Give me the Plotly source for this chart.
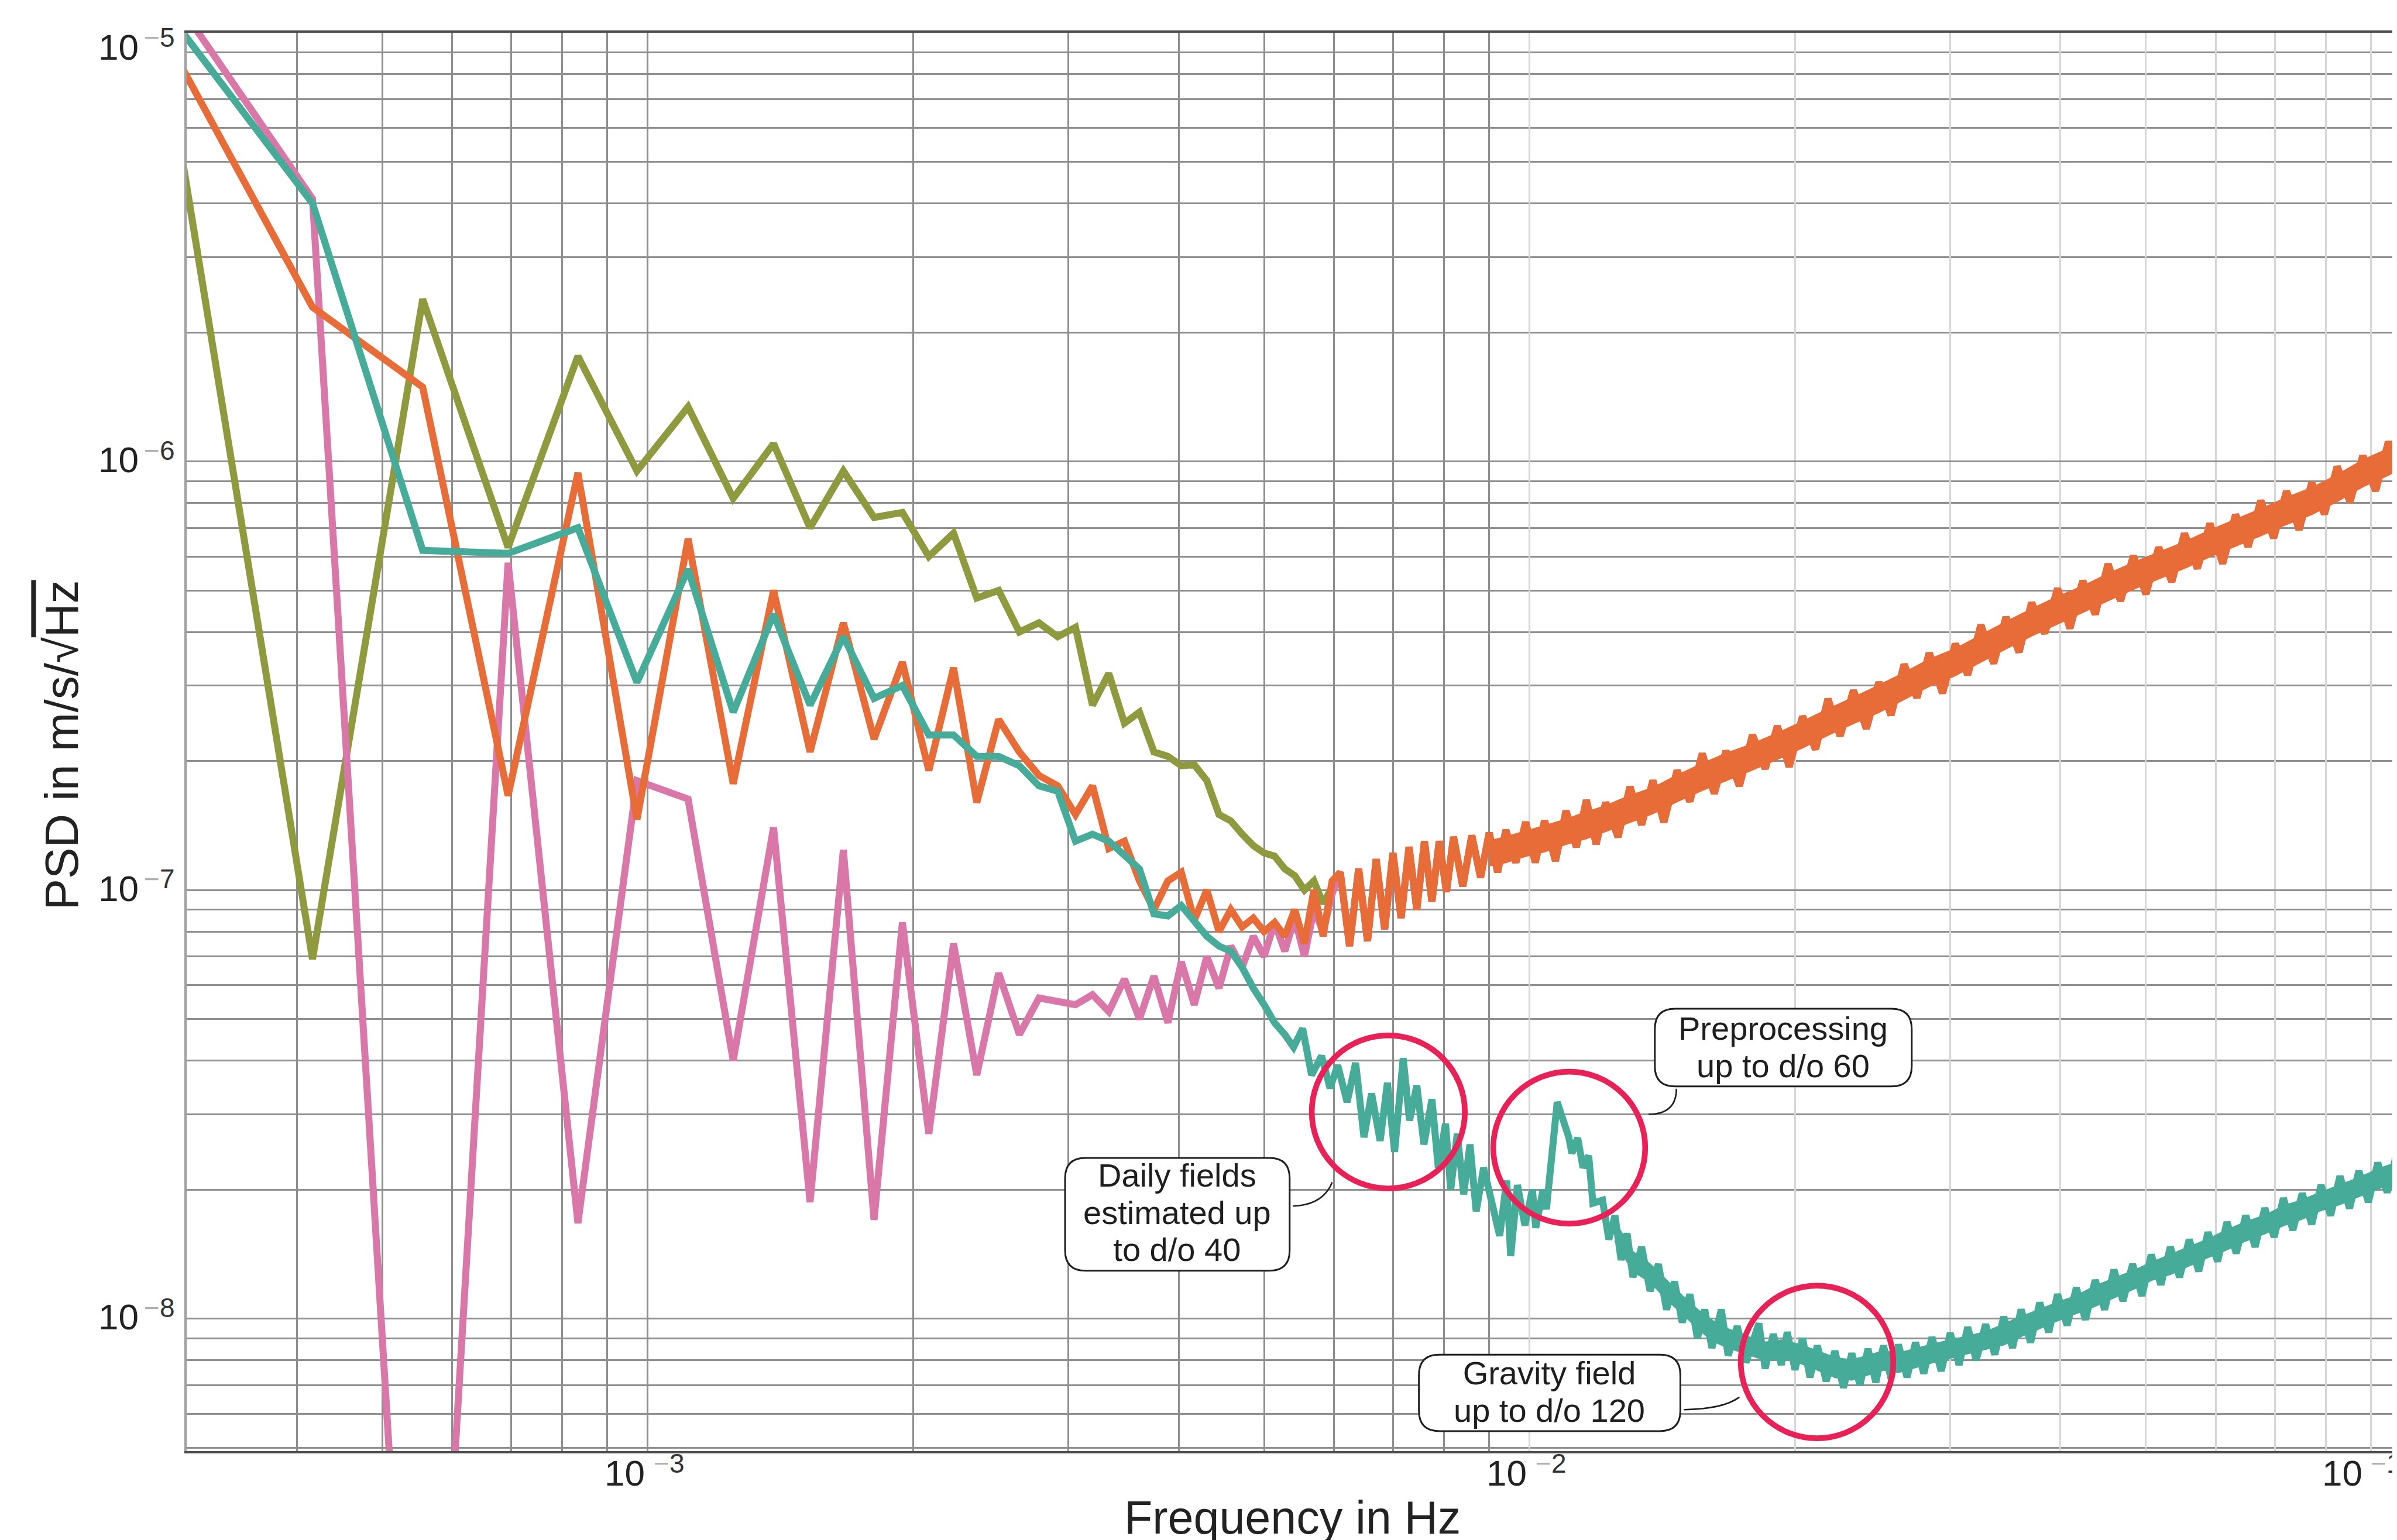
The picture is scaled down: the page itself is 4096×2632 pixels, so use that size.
import math
import plotly.graph_objects as go

# ---------------- data ----------------
low_freq = [2.778e-4, 4.167e-4, 5.556e-4, 6.944e-4, 8.333e-4, 9.722e-4, 1.1111e-3, 1.25e-3,
            1.3889e-3, 1.5278e-3, 1.6667e-3, 1.8056e-3, 1.9444e-3, 2.0833e-3, 2.2222e-3,
            2.3611e-3, 2.5e-3, 2.6389e-3, 2.7778e-3, 2.9167e-3, 3.0556e-3, 3.1944e-3,
            3.3333e-3, 3.4722e-3, 3.6111e-3, 3.75e-3, 3.8889e-3, 4.0278e-3, 4.1667e-3,
            4.3056e-3, 4.4444e-3, 4.5833e-3, 4.7222e-3, 4.8611e-3, 5.0e-3, 5.1389e-3,
            5.2778e-3, 5.4167e-3, 5.5556e-3, 5.6944e-3, 5.8333e-3, 5.9722e-3]

olive_low = [1.16e-5, 6.9e-8, 2.39e-6, 6.3e-7, 1.76e-6, 9.5e-7, 1.34e-6, 8.2e-7,
             1.1e-6, 7.0e-7, 9.5e-7, 7.4e-7, 7.6e-7, 6.0e-7, 6.8e-7,
             4.8e-7, 5.0e-7, 4.0e-7, 4.2e-7, 3.9e-7, 4.1e-7, 2.7e-7,
             3.2e-7, 2.45e-7, 2.6e-7, 2.1e-7, 2.05e-7, 1.95e-7, 1.96e-7,
             1.8e-7, 1.5e-7, 1.45e-7, 1.35e-7, 1.27e-7, 1.22e-7, 1.2e-7,
             1.12e-7, 1.08e-7, 1.0e-7, 1.05e-7, 9.3e-8, 1.02e-7]

orange_low = [1.06e-5, 2.29e-6, 1.49e-6, 1.66e-7, 9.4e-7, 1.46e-7, 6.6e-7, 1.77e-7,
              5.0e-7, 2.1e-7, 4.2e-7, 2.25e-7, 3.4e-7, 1.9e-7, 3.3e-7,
              1.6e-7, 2.5e-7, 2.1e-7, 1.85e-7, 1.75e-7, 1.5e-7, 1.75e-7,
              1.25e-7, 1.3e-7, 1.05e-7, 9.0e-8, 1.05e-7, 1.1e-7, 8.5e-8,
              1.0e-7, 8.0e-8, 9.0e-8, 8.2e-8, 8.6e-8, 8.0e-8, 8.4e-8,
              7.8e-8, 9.0e-8, 7.5e-8, 1.0e-7, 7.8e-8, 1.05e-7]

pink_low = [1.38e-5, 4.1e-6, 2.6e-10, 5.8e-7, 1.67e-8, 1.8e-7, 1.63e-7, 4.0e-8,
            1.4e-7, 1.87e-8, 1.24e-7, 1.7e-8, 8.4e-8, 2.7e-8, 7.5e-8,
            3.7e-8, 6.4e-8, 4.6e-8, 5.6e-8, 5.5e-8, 5.4e-8, 5.7e-8,
            5.2e-8, 6.2e-8, 5.0e-8, 6.3e-8, 4.9e-8, 6.8e-8, 5.4e-8,
            7.0e-8, 5.9e-8, 7.4e-8, 6.6e-8, 7.8e-8, 7.0e-8, 8.4e-8,
            7.2e-8, 8.6e-8, 7.0e-8, 9.0e-8, 8.0e-8, 9.8e-8]

# common high-frequency part shared by the three upper curves
tail_freq = [6.10e-3, 6.25e-3, 6.40e-3, 6.55e-3, 6.70e-3, 6.85e-3, 7.00e-3, 7.15e-3, 7.30e-3,
             7.45e-3, 7.60e-3, 7.75e-3, 7.90e-3, 8.05e-3, 8.20e-3, 8.40e-3, 8.60e-3, 8.80e-3,
             9.00e-3, 9.20e-3, 9.40e-3, 9.65e-3, 9.90e-3, 1.015e-2, 1.04e-2, 1.07e-2, 1.10e-2,
             1.13e-2, 1.16e-2, 1.19e-2, 1.22e-2, 1.26e-2, 1.30e-2, 1.34e-2, 1.38e-2, 1.42e-2,
             1.47e-2, 1.52e-2, 1.57e-2, 1.62e-2, 1.67e-2, 1.73e-2, 1.79e-2, 1.85e-2, 1.91e-2,
             1.97e-2, 2.04e-2, 2.11e-2, 2.18e-2, 2.25e-2, 2.33e-2, 2.41e-2, 2.49e-2, 2.57e-2,
             2.66e-2, 2.75e-2, 2.84e-2, 2.94e-2, 3.04e-2, 3.14e-2, 3.25e-2, 3.36e-2, 3.47e-2,
             3.59e-2, 3.71e-2, 3.84e-2, 3.97e-2, 4.10e-2, 4.24e-2, 4.38e-2, 4.53e-2, 4.68e-2,
             4.84e-2, 5.00e-2, 5.17e-2, 5.35e-2, 5.53e-2, 5.72e-2, 5.91e-2, 6.11e-2, 6.32e-2,
             6.53e-2, 6.75e-2, 6.98e-2, 7.22e-2, 7.46e-2, 7.71e-2, 7.97e-2, 8.24e-2, 8.52e-2,
             8.81e-2, 9.11e-2, 9.42e-2, 9.74e-2, 1.007e-1]
tail_psd = [1.10e-7, 7.4e-8, 1.12e-7, 7.6e-8, 1.18e-7, 8.1e-8, 1.22e-7, 8.6e-8, 1.26e-7,
            9.0e-8, 1.30e-7, 9.4e-8, 1.30e-7, 9.9e-8, 1.33e-7, 1.02e-7, 1.34e-7, 1.07e-7,
            1.36e-7, 1.10e-7, 1.38e-7, 1.16e-7, 1.44e-7, 1.16e-7, 1.45e-7, 1.17e-7, 1.53e-7,
            1.26e-7, 1.62e-7, 1.28e-7, 1.60e-7, 1.33e-7, 1.74e-7, 1.42e-7, 1.80e-7, 1.44e-7,
            1.90e-7, 1.61e-7, 2.08e-7, 1.68e-7, 2.11e-7, 1.75e-7, 2.30e-7, 1.92e-7, 2.41e-7,
            1.94e-7, 2.54e-7, 2.13e-7, 2.79e-7, 2.29e-7, 2.92e-7, 2.38e-7, 3.05e-7, 2.56e-7,
            3.36e-7, 2.81e-7, 3.57e-7, 2.88e-7, 3.75e-7, 3.18e-7, 4.15e-7, 3.38e-7, 4.33e-7,
            3.59e-7, 4.68e-7, 3.97e-7, 5.05e-7, 4.08e-7, 5.26e-7, 4.40e-7, 5.76e-7, 4.73e-7,
            6.02e-7, 4.90e-7, 6.30e-7, 5.24e-7, 6.79e-7, 5.63e-7, 7.16e-7, 5.78e-7, 7.51e-7,
            6.33e-7, 8.10e-7, 6.63e-7, 8.52e-7, 6.93e-7, 8.91e-7, 7.54e-7, 9.72e-7, 8.04e-7,
            1.03e-6, 8.54e-7, 1.11e-6, 9.36e-7, 1.19e-6]

# inner noise envelope of the orange band (upper / lower edge)
oband_freq = [9.0e-3, 9.4e-3, 9.9e-3, 1.04e-2, 1.10e-2, 1.16e-2, 1.22e-2, 1.30e-2, 1.38e-2,
              1.47e-2, 1.57e-2, 1.67e-2, 1.79e-2, 1.91e-2, 2.04e-2, 2.18e-2, 2.33e-2, 2.49e-2,
              2.66e-2, 2.84e-2, 3.04e-2, 3.25e-2, 3.47e-2, 3.71e-2, 3.97e-2, 4.24e-2, 4.53e-2,
              4.84e-2, 5.17e-2, 5.53e-2, 5.91e-2, 6.32e-2, 6.75e-2, 7.22e-2, 7.71e-2, 8.24e-2,
              8.81e-2, 9.42e-2, 1.007e-1]
oband_hi = [1.30e-7, 1.33e-7, 1.37e-7, 1.41e-7, 1.46e-7, 1.52e-7, 1.57e-7, 1.66e-7, 1.73e-7,
            1.85e-7, 1.97e-7, 2.08e-7, 2.19e-7, 2.32e-7, 2.47e-7, 2.64e-7, 2.81e-7, 3.00e-7,
            3.21e-7, 3.45e-7, 3.65e-7, 3.93e-7, 4.22e-7, 4.52e-7, 4.83e-7, 5.11e-7, 5.46e-7,
            5.80e-7, 6.13e-7, 6.48e-7, 6.90e-7, 7.31e-7, 7.74e-7, 8.22e-7, 8.67e-7, 9.29e-7,
            1.006e-6, 1.07e-6, 1.156e-6]
oband_lo = [1.14e-7, 1.16e-7, 1.20e-7, 1.23e-7, 1.28e-7, 1.32e-7, 1.37e-7, 1.44e-7, 1.51e-7,
            1.61e-7, 1.71e-7, 1.80e-7, 1.91e-7, 2.02e-7, 2.15e-7, 2.30e-7, 2.45e-7, 2.60e-7,
            2.79e-7, 2.99e-7, 3.17e-7, 3.41e-7, 3.66e-7, 3.92e-7, 4.19e-7, 4.45e-7, 4.74e-7,
            5.04e-7, 5.33e-7, 5.64e-7, 6.00e-7, 6.35e-7, 6.72e-7, 7.14e-7, 7.53e-7, 8.07e-7,
            8.74e-7, 9.30e-7, 1.004e-6]

teal_freq = [2.778e-4, 4.167e-4, 5.556e-4, 6.944e-4, 8.333e-4, 9.722e-4, 1.1111e-3, 1.25e-3,
             1.3889e-3, 1.5278e-3, 1.6667e-3, 1.8056e-3, 1.9444e-3, 2.0833e-3, 2.2222e-3,
             2.3611e-3, 2.5e-3, 2.6389e-3, 2.7778e-3, 2.9167e-3, 3.0556e-3, 3.1944e-3,
             3.3333e-3, 3.4722e-3, 3.6111e-3, 3.75e-3, 3.8889e-3, 4.0278e-3, 4.1667e-3,
             4.3056e-3, 4.4444e-3, 4.5833e-3, 4.7222e-3, 4.8611e-3, 5.0e-3, 5.1389e-3,
             5.2778e-3, 5.40e-3, 5.53e-3, 5.66e-3, 5.81e-3, 5.94e-3, 6.06e-3, 6.21e-3,
             6.35e-3, 6.49e-3, 6.62e-3, 6.77e-3, 6.90e-3, 7.03e-3, 7.19e-3, 7.31e-3,
             7.45e-3, 7.59e-3, 7.75e-3, 7.88e-3, 8.03e-3, 8.14e-3, 8.28e-3, 8.42e-3,
             8.56e-3, 8.70e-3, 8.87e-3, 9.08e-3, 9.25e-3, 9.42e-3, 9.52e-3, 9.69e-3,
             9.88e-3, 1.0075e-2, 1.0163e-2, 1.036e-2, 1.045e-2, 1.075e-2, 1.108e-2,
             1.117e-2, 1.134e-2, 1.15e-2, 1.167e-2, 1.18e-2,
             1.21e-2, 1.23e-2, 1.25e-2, 1.27e-2, 1.29e-2, 1.31e-2, 1.34e-2, 1.37e-2, 1.40e-2,
             1.43e-2, 1.46e-2, 1.49e-2, 1.52e-2, 1.55e-2, 1.58e-2, 1.61e-2, 1.65e-2, 1.68e-2,
             1.72e-2, 1.76e-2, 1.80e-2, 1.82e-2, 1.85e-2, 1.89e-2, 1.93e-2, 1.96e-2, 2.00e-2,
             2.04e-2, 2.08e-2, 2.12e-2, 2.17e-2, 2.22e-2, 2.27e-2, 2.32e-2, 2.37e-2, 2.42e-2,
             2.47e-2, 2.52e-2, 2.57e-2, 2.62e-2, 2.68e-2, 2.74e-2, 2.80e-2, 2.86e-2, 2.93e-2,
             3.00e-2, 3.07e-2, 3.14e-2, 3.21e-2, 3.29e-2, 3.37e-2, 3.45e-2, 3.53e-2, 3.61e-2,
             3.70e-2, 3.79e-2, 3.88e-2, 3.97e-2, 4.07e-2, 4.17e-2, 4.27e-2, 4.38e-2, 4.49e-2,
             4.60e-2, 4.71e-2, 4.83e-2, 4.95e-2, 5.07e-2, 5.20e-2, 5.33e-2, 5.46e-2, 5.60e-2,
             5.74e-2, 5.88e-2, 6.03e-2, 6.18e-2, 6.33e-2, 6.49e-2, 6.65e-2, 6.82e-2, 6.99e-2,
             7.16e-2, 7.34e-2, 7.52e-2, 7.71e-2, 7.90e-2, 8.10e-2, 8.30e-2, 8.51e-2, 8.72e-2,
             8.94e-2, 9.16e-2, 9.39e-2, 9.62e-2, 9.86e-2, 1.01e-1]
teal_psd = [1.2e-5, 4.0e-6, 6.2e-7, 6.1e-7, 7.0e-7, 3.05e-7, 5.6e-7, 2.6e-7,
            4.4e-7, 2.7e-7, 3.9e-7, 2.8e-7, 3.0e-7, 2.3e-7, 2.3e-7,
            2.05e-7, 2.05e-7, 1.95e-7, 1.75e-7, 1.7e-7, 1.3e-7, 1.35e-7,
            1.3e-7, 1.2e-7, 1.12e-7, 8.8e-8, 8.7e-8, 9.2e-8, 8.5e-8,
            7.8e-8, 7.4e-8, 7.2e-8, 6.6e-8, 5.9e-8, 5.4e-8, 4.9e-8,
            4.6e-8, 4.3e-8, 4.75e-8, 3.7e-8, 4.1e-8, 3.45e-8, 3.9e-8, 3.2e-8,
            3.95e-8, 2.65e-8, 3.35e-8, 2.6e-8, 3.55e-8, 2.45e-8, 4.05e-8, 2.9e-8,
            3.5e-8, 2.55e-8, 3.25e-8, 2.25e-8, 2.85e-8, 2.0e-8, 2.7e-8, 1.95e-8,
            2.55e-8, 1.78e-8, 2.25e-8, 1.8e-8, 1.56e-8, 2.1e-8, 1.4e-8, 2.05e-8,
            1.65e-8, 2.0e-8, 1.63e-8, 2.0e-8, 1.8e-8, 3.2e-8, 2.65e-8,
            2.43e-8, 2.64e-8, 2.25e-8, 2.4e-8, 1.86e-8,
            1.89e-8, 1.53e-8, 1.74e-8, 1.37e-8, 1.58e-8, 1.25e-8, 1.47e-8, 1.16e-8, 1.34e-8,
            1.05e-8, 1.22e-8, 9.8e-9, 1.14e-8, 9.0e-9, 1.05e-8, 8.55e-9, 1.05e-8, 8.2e-9,
            9.6e-9, 7.9e-9, 9.3e-9, 9.75e-9, 7.65e-9, 9.2e-9, 7.8e-9, 9.3e-9, 7.6e-9,
            9.0e-9, 7.3e-9, 8.65e-9, 7.15e-9, 8.4e-9, 6.9e-9, 8.3e-9, 7.0e-9, 8.5e-9,
            7.1e-9, 8.65e-9, 7.25e-9, 8.7e-9, 7.3e-9, 8.8e-9, 7.45e-9, 9.05e-9, 7.55e-9,
            9.25e-9, 7.8e-9, 9.55e-9, 8.0e-9, 9.7e-9, 8.25e-9, 1.01e-8, 8.55e-9, 1.05e-8,
            8.8e-9, 1.09e-8, 9.3e-9, 1.14e-8, 9.65e-9, 1.18e-8, 9.95e-9, 1.23e-8, 1.05e-8,
            1.30e-8, 1.10e-8, 1.34e-8, 1.13e-8, 1.41e-8, 1.20e-8, 1.47e-8, 1.25e-8, 1.53e-8,
            1.29e-8, 1.59e-8, 1.36e-8, 1.68e-8, 1.42e-8, 1.74e-8, 1.47e-8, 1.81e-8, 1.55e-8,
            1.91e-8, 1.61e-8, 1.96e-8, 1.66e-8, 2.05e-8, 1.74e-8, 2.15e-8, 1.81e-8, 2.21e-8,
            1.87e-8, 2.31e-8, 1.97e-8, 2.42e-8, 2.03e-8, 2.47e-8]

# inner noise envelope of the teal band (upper / lower edge)
tband_freq = [1.25e-2, 1.31e-2, 1.37e-2, 1.43e-2, 1.49e-2, 1.55e-2, 1.61e-2, 1.68e-2, 1.76e-2,
              1.85e-2, 1.93e-2, 2.02e-2, 2.12e-2, 2.22e-2, 2.32e-2, 2.42e-2, 2.52e-2, 2.62e-2,
              2.74e-2, 2.86e-2, 3.00e-2, 3.14e-2, 3.29e-2, 3.45e-2, 3.61e-2, 3.79e-2, 3.97e-2,
              4.17e-2, 4.38e-2, 4.60e-2, 4.83e-2, 5.07e-2, 5.33e-2, 5.60e-2, 5.88e-2, 6.18e-2,
              6.49e-2, 6.82e-2, 7.16e-2, 7.52e-2, 7.90e-2, 8.30e-2, 8.72e-2, 9.16e-2, 9.62e-2,
              1.01e-1]
tband_hi = [1.68e-8, 1.43e-8, 1.34e-8, 1.23e-8, 1.13e-8, 1.05e-8, 9.9e-9, 9.45e-9, 9.1e-9,
            8.8e-9, 8.9e-9, 8.7e-9, 8.4e-9, 8.1e-9, 8.0e-9, 8.2e-9, 8.4e-9, 8.3e-9,
            8.5e-9, 8.7e-9, 8.9e-9, 9.1e-9, 9.3e-9, 9.7e-9, 1.01e-8, 1.05e-8, 1.09e-8,
            1.13e-8, 1.19e-8, 1.24e-8, 1.29e-8, 1.35e-8, 1.41e-8, 1.47e-8, 1.53e-8, 1.61e-8,
            1.68e-8, 1.74e-8, 1.83e-8, 1.89e-8, 1.97e-8, 2.05e-8, 2.13e-8, 2.23e-8, 2.31e-8,
            2.38e-8]
tband_lo = [1.52e-8, 1.29e-8, 1.22e-8, 1.11e-8, 1.03e-8, 9.5e-9, 8.9e-9, 8.55e-9, 8.3e-9,
            8.0e-9, 8.1e-9, 7.9e-9, 7.6e-9, 7.3e-9, 7.2e-9, 7.4e-9, 7.6e-9, 7.5e-9,
            7.7e-9, 7.9e-9, 8.1e-9, 8.3e-9, 8.5e-9, 8.7e-9, 9.1e-9, 9.5e-9, 9.9e-9,
            1.03e-8, 1.07e-8, 1.12e-8, 1.17e-8, 1.23e-8, 1.27e-8, 1.33e-8, 1.39e-8, 1.45e-8,
            1.52e-8, 1.58e-8, 1.65e-8, 1.71e-8, 1.79e-8, 1.85e-8, 1.93e-8, 2.01e-8, 2.09e-8,
            2.16e-8]

# tick labels: decade exponents
x_decades = [-3, -2]
y_decades = [-8, -7, -6]
x_edge_decade = -1   # label sits at the cropped right edge
y_top_decade = -5    # label sits just below the top edge

callouts = [
    ["Daily fields", "estimated up", "to d/o 40"],
    ["Preprocessing", "up to d/o 60"],
    ["Gravity field", "up to d/o 120"],
]

# ---------------- layout geometry ----------------
S = 0.969
W, H = 4096, 2632
ML, MT, MB, MR = 311, 48, 160, 0
PW = W - ML - MR
PH = H - MT - MB

XDEC = 1555 * S   # px per decade (x)
YDEC = 756 * S    # px per decade (y)
x0log = math.log10(3e-4)
x_range = [x0log, x0log + PW / XDEC]
y_range = [-5 - PH / YDEC, -5]


def px(xr):
    return (xr * S - ML) / PW


def py(yr):
    return 1 - (yr * S - MT) / PH


OLIVE = "#8f9a3e"
ORANGE = "#e86c37"
PINK = "#d977a9"
TEAL = "#46ab99"
RED = "#ea2156"
LW = 12

fig = go.Figure()
fig.add_trace(go.Scatter(x=low_freq + tail_freq, y=olive_low + tail_psd, mode="lines",
                         line=dict(color=OLIVE, width=LW), showlegend=False))
fig.add_trace(go.Scatter(x=low_freq + tail_freq, y=pink_low + tail_psd, mode="lines",
                         line=dict(color=PINK, width=LW), showlegend=False))
fig.add_trace(go.Scatter(x=oband_freq + oband_freq[::-1], y=oband_hi + oband_lo[::-1],
                         mode="lines", fill="toself", fillcolor=ORANGE,
                         line=dict(color=ORANGE, width=3), showlegend=False))
fig.add_trace(go.Scatter(x=low_freq + tail_freq, y=orange_low + tail_psd, mode="lines",
                         line=dict(color=ORANGE, width=LW), showlegend=False))
fig.add_trace(go.Scatter(x=tband_freq + tband_freq[::-1], y=tband_hi + tband_lo[::-1],
                         mode="lines", fill="toself", fillcolor=TEAL,
                         line=dict(color=TEAL, width=3), showlegend=False))
fig.add_trace(go.Scatter(x=teal_freq, y=teal_psd, mode="lines",
                         line=dict(color=TEAL, width=LW), showlegend=False))
fig.add_trace(go.Scatter(x=[], y=[], xaxis="x2", yaxis="y", showlegend=False))

# grid positions (minor grid = unlabeled lines)
dark_minor_x = [m * 1e-4 for m in range(3, 10)] + [m * 1e-3 for m in range(2, 10)]
light_minor_x = [m * 1e-2 for m in range(2, 10)]
minor_y = [m * 10 ** e for e in (-9, -8, -7, -6) for m in range(2, 10)] + [1e-5]
minor_y = [v for v in minor_y if v >= 4.9e-9]

GRID_DARK = "#8e8e8e"
GRID_LIGHT = "#d6d6d6"
GW = 2.9

fig.update_layout(
    width=W, height=H,
    margin=dict(l=ML, r=MR, t=MT, b=MB),
    paper_bgcolor="white", plot_bgcolor="white",
    showlegend=False,
    xaxis=dict(type="log", range=x_range, tickmode="array", tickvals=[10.0 ** x_decades[0]],
               showticklabels=False,
               showgrid=True, gridcolor=GRID_DARK, gridwidth=GW, zeroline=False,
               minor=dict(tickmode="array", tickvals=dark_minor_x, showgrid=True,
                          gridcolor=GRID_DARK, gridwidth=GW, ticks=""),
               ticks="", showline=True, linecolor="#4d4d4d", linewidth=4, mirror=True),
    xaxis2=dict(type="log", range=x_range, overlaying="x", anchor="y", side="bottom",
                tickmode="array", tickvals=[10.0 ** x_decades[1]], showticklabels=False,
                showgrid=True, gridcolor=GRID_LIGHT, gridwidth=GW, zeroline=False,
                minor=dict(tickmode="array", tickvals=light_minor_x, showgrid=True,
                           gridcolor=GRID_LIGHT, gridwidth=GW, ticks=""),
                ticks="", showline=False),
    yaxis=dict(type="log", range=y_range, tickmode="array",
               tickvals=[10.0 ** d for d in y_decades], showticklabels=False,
               showgrid=True, gridcolor="#8f8f8f", gridwidth=GW, zeroline=False,
               minor=dict(tickmode="array", tickvals=minor_y, showgrid=True,
                          gridcolor="#8f8f8f", gridwidth=GW, ticks=""),
               ticks="", showline=True, linecolor="#a0a0a0", linewidth=4),
)

shapes = []
# highlight circles (center x, center y, radius) in reference pixels
for cx, cy, r in [(2440, 1953, 135), (2759, 2016, 134), (3196, 2394, 134.5)]:
    shapes.append(dict(type="circle", xref="paper", yref="paper",
                       x0=px(cx - r), x1=px(cx + r), y0=py(cy + r), y1=py(cy - r),
                       line=dict(color=RED, width=9.7), fillcolor="rgba(0,0,0,0)", layer="above"))

# rounded callout boxes
boxes = [(1870, 2034, 2266, 2233), (2910, 1771, 3363, 1908), (2494, 2381, 2955, 2516)]
RAD = 36
for (bx0, by0, bx1, by1) in boxes:
    x0, x1 = px(bx0), px(bx1)
    yt, yb = py(by0), py(by1)
    rx = RAD * S / PW
    ry = RAD * S / PH
    path = (f"M {x0+rx},{yt} L {x1-rx},{yt} Q {x1},{yt} {x1},{yt-ry} "
            f"L {x1},{yb+ry} Q {x1},{yb} {x1-rx},{yb} L {x0+rx},{yb} "
            f"Q {x0},{yb} {x0},{yb+ry} L {x0},{yt-ry} Q {x0},{yt} {x0+rx},{yt} Z")
    shapes.append(dict(type="path", xref="paper", yref="paper", path=path,
                       line=dict(color="#1e1e1e", width=3), fillcolor="white", layer="above"))

# curved connectors
connectors = [((2272, 2119), (2325, 2117), (2341, 2077)),
              ((2948, 1912), (2948, 1957), (2899, 1957)),
              ((2961, 2478), (3031, 2477), (3059, 2456))]
for (a, c, b) in connectors:
    path = f"M {px(a[0])},{py(a[1])} Q {px(c[0])},{py(c[1])} {px(b[0])},{py(b[1])}"
    shapes.append(dict(type="path", xref="paper", yref="paper", path=path,
                       line=dict(color="#1e1e1e", width=2.6), fillcolor="rgba(0,0,0,0)",
                       layer="above"))
fig.update_layout(shapes=shapes)

ann = []
# one annotation per box; the outer font sets the (tighter) line spacing
centers = [(2068, 2130), (3136, 1838), (2724, 2446)]
for lines, (cx, cy) in zip(callouts, centers):
    txt = "<br>".join(f"<span style='font-size:56px'>{t}</span>" for t in lines)
    ann.append(dict(text=txt, x=px(cx), y=py(cy), xref="paper", yref="paper",
                    showarrow=False, xanchor="center", yanchor="middle", align="center",
                    font=dict(family="Liberation Sans", size=49, color="#1e1e1e")))

# ---- tick labels: "10" plus a raised exponent with a light minus sign ----
BASEFONT = dict(family="Liberation Sans", size=62, color="#222222")
EXPFONT = dict(family="Liberation Sans", size=46, color="#333333")


def exp_text(d):
    return f"<span style='color:#b0b0b0'>\u2212</span>{abs(d)}"


for d in y_decades:
    ann.append(dict(text="10", x=px(238), xref="paper", y=d, yref="y", xanchor="right",
                    yanchor="middle", yshift=3, showarrow=False, font=BASEFONT))
    ann.append(dict(text=exp_text(d), x=px(244), xref="paper", y=d, yref="y", xanchor="left",
                    yanchor="middle", yshift=19, showarrow=False, font=EXPFONT))
ann.append(dict(text="10", x=px(238), xref="paper", y=y_top_decade, yref="y", xanchor="right",
                yanchor="middle", yshift=-24, showarrow=False, font=BASEFONT))
ann.append(dict(text=exp_text(y_top_decade), x=px(244), xref="paper", y=y_top_decade, yref="y",
                xanchor="left", yanchor="middle", yshift=-8, showarrow=False, font=EXPFONT))

for d in x_decades:
    ann.append(dict(text="10", x=d, xref="x", y=py(2590), yref="paper", xanchor="right",
                    yanchor="middle", xshift=-3, showarrow=False, font=BASEFONT))
    ann.append(dict(text=exp_text(d), x=d, xref="x", y=py(2573), yref="paper", xanchor="left",
                    yanchor="middle", xshift=8, showarrow=False, font=EXPFONT))
ann.append(dict(text="10", x=px(4160), xref="paper", y=py(2590), yref="paper", xanchor="right",
                yanchor="middle", showarrow=False, font=BASEFONT))
ann.append(dict(text=exp_text(x_edge_decade), x=px(4170), xref="paper", y=py(2573),
                yref="paper", xanchor="left", yanchor="middle", showarrow=False, font=EXPFONT))

# axis titles
ann.append(dict(text="Frequency in Hz", x=px(2271), y=py(2668), xref="paper", yref="paper",
                showarrow=False, xanchor="center", yanchor="middle",
                font=dict(family="Liberation Sans", size=79, color="#222222")))
ann.append(dict(text="PSD in m/s/\u221a<span style='text-decoration:overline'>Hz</span>",
                x=px(101), y=py(1306), xref="paper", yref="paper", textangle=-90,
                showarrow=False, xanchor="center", yanchor="middle",
                font=dict(family="Liberation Sans", size=80, color="#222222")))
fig.update_layout(annotations=ann)

fig.write_html("out.html")
